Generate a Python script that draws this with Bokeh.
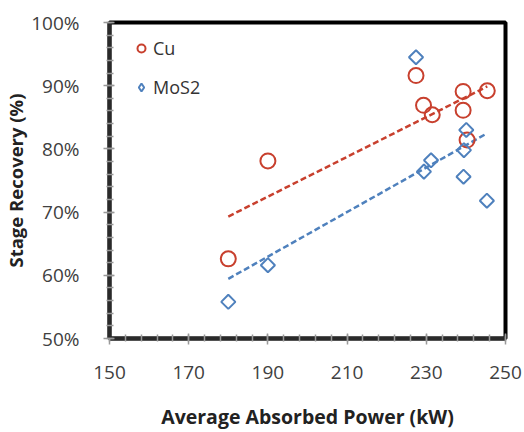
import numpy as np
from bokeh.plotting import figure
from bokeh.models import Range1d, NumeralTickFormatter, FixedTicker, Legend, LegendItem
from bokeh.embed import file_html
from bokeh.resources import INLINE

# Data
cu_power = [180, 190, 227.4, 229.3, 231.5, 239.3, 239.3, 240.3, 245.4]
cu_recovery = [0.626, 0.781, 0.916, 0.869, 0.854, 0.891, 0.861, 0.814, 0.892]
mos2_power = [180, 190, 227.4, 229.4, 231.2, 239.4, 239.5, 240.1, 245.3]
mos2_recovery = [0.558, 0.616, 0.945, 0.764, 0.782, 0.756, 0.798, 0.830, 0.718]

x_ticks = [150, 170, 190, 210, 230, 250]
y_ticks = [0.5, 0.6, 0.7, 0.8, 0.9, 1.0]

RED = "#C8402E"
BLUE = "#4F81BD"
FONT = "Open Sans"

p = figure(width=524, height=432, output_backend="svg", toolbar_location=None,
           x_range=Range1d(150, 250), y_range=Range1d(0.5, 1.0),
           min_border_left=108, min_border_right=19, min_border_top=22, min_border_bottom=94)
p.grid.visible = False
p.outline_line_color = "black"
p.outline_line_width = 4
p.background_fill_color = "white"
p.border_fill_color = "white"

# trend lines (least-squares fit of each series)
cu_fit = np.polyfit(cu_power, cu_recovery, 1)
mo_fit = np.polyfit(mos2_power, mos2_recovery, 1)
cu_x = [min(cu_power), max(cu_power)]
mo_x = [min(mos2_power), max(mos2_power)]
p.line(cu_x, list(np.polyval(cu_fit, cu_x)), line_color=RED, line_width=2.5, line_dash="6 3")
p.line(mo_x, list(np.polyval(mo_fit, mo_x)), line_color=BLUE, line_width=2.5, line_dash="6 3")

r_cu = p.scatter(cu_power, cu_recovery, marker="circle", size=15, fill_color=None,
                 line_color=RED, line_width=2)
p.scatter(mos2_power, mos2_recovery, marker="square", angle=np.pi / 4, size=10,
          fill_color=None, line_color=BLUE, line_width=2)
# legend-only glyph (a diamond, since legend glyphs ignore the rotation); NaN point is not drawn
r_mo_leg = p.scatter(x=[np.nan], y=[np.nan], marker="diamond", size=15, fill_color=None,
                     line_color=BLUE, line_width=2)

legend = Legend(items=[LegendItem(label="Cu", renderers=[r_cu]),
                       LegendItem(label="MoS2", renderers=[r_mo_leg])],
                location=(22, 239), border_line_color=None, background_fill_alpha=0,
                padding=0, margin=0, spacing=15, glyph_width=20, glyph_height=22,
                label_height=22, label_standoff=2,
                label_text_font=FONT, label_text_font_size="18px", label_text_color="#333333")
p.add_layout(legend)

for ax in (p.xaxis, p.yaxis):
    ax.axis_line_color = "#2a2a2a"
    ax.axis_line_width = 4
    ax.major_tick_line_color = "#999999"
    ax.minor_tick_line_color = "#999999"
    ax.major_tick_line_width = 1.5
    ax.minor_tick_line_width = 1.5
    ax.major_tick_in = 5
    ax.major_tick_out = 6
    ax.minor_tick_in = 4
    ax.minor_tick_out = 3
    ax.major_label_text_font = FONT
    ax.major_label_text_font_size = "19px"
    ax.major_label_text_color = "#404040"
    ax.axis_label_text_font = FONT
    ax.axis_label_text_font_size = "18.5px"
    ax.axis_label_text_font_style = "bold"
    ax.axis_label_text_color = "#222222"

p.xaxis.axis_label_text_font_size = "19.5px"
p.xaxis.ticker = FixedTicker(ticks=x_ticks, minor_ticks=list(range(150, 251, 4)))
p.yaxis.ticker = FixedTicker(ticks=y_ticks, minor_ticks=[0.5 + 0.02 * i for i in range(26)])
p.yaxis.formatter = NumeralTickFormatter(format="0%")
p.xaxis.axis_label = "Average Absorbed Power (kW)"
p.yaxis.axis_label = "Stage Recovery (%)"
p.xaxis.major_label_standoff = 21
p.xaxis.axis_label_standoff = 21
p.yaxis.major_label_standoff = 24
p.yaxis.axis_label_standoff = 0

open("out.html", "w").write(file_html(p, INLINE))
